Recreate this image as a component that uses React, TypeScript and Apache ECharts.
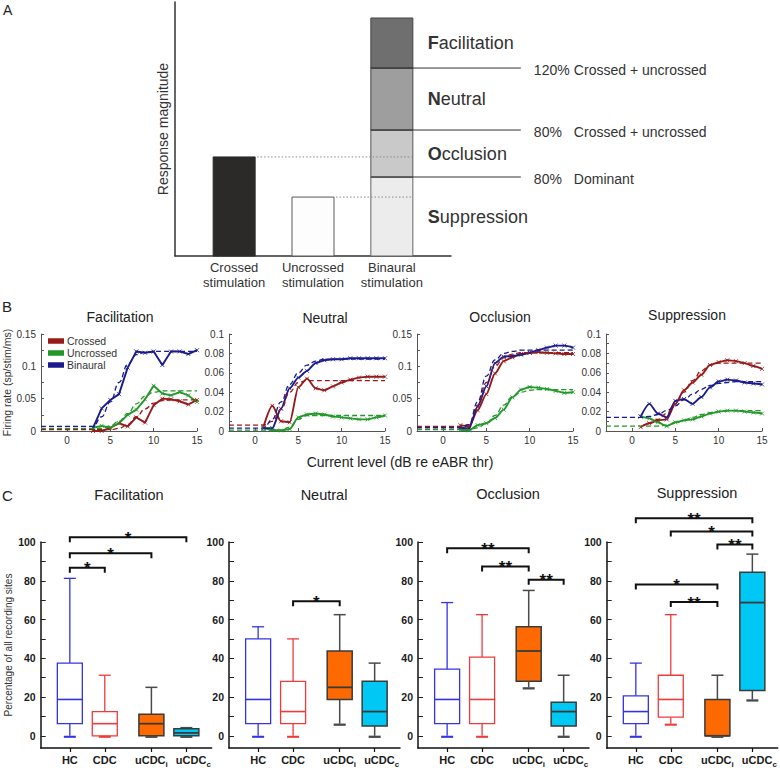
import React, { useEffect, useRef } from 'react';
import * as echarts from 'echarts';

const FONT = '"Liberation Sans", Arial, Helvetica, sans-serif';

// ---------------- Panel A (schematic) ----------------
const stimulusLabels = ['Crossed\nstimulation', 'Uncrossed\nstimulation', 'Binaural\nstimulation'];
const monauralResponse = [39.0, 23.2]; // crossed, uncrossed
const binauralClasses = ['Suppression', 'Occlusion', 'Neutral', 'Facilitation']; // bottom -> top
const binauralSegments = [31.1, 18.5, 24.4, 19.7];
const criterionPercents = ['80%', '80%', '120%'];
const criterionTexts = ['Dominant', 'Crossed + uncrossed', 'Crossed + uncrossed'];

// ---------------- Panel B (rate-level functions) ----------------
const levels = [-3, -2, -1, 0, 1, 2, 3, 4, 5, 6, 7, 8, 9, 10, 11, 12, 13, 14, 15];
const N = null;
const facCrossed = [N, N, N, N, N, N, 0, 0, 0.005, 0.012, 0.007, 0.021, 0.013, 0.04, 0.05, 0.049, 0.046, 0.041, 0.048];
const facCrossedFit = [0.002, 0.002, 0.002, 0.002, 0.002, 0.002, 0.002, 0.002, 0.002, 0.004, 0.01, 0.022, 0.034, 0.043, 0.047, 0.048, 0.048, 0.048, 0.048];
const facUncrossed = [N, N, N, N, N, N, 0.005, 0.008, 0.005, 0.012, 0.025, 0.033, 0.049, 0.07, 0.058, 0.055, 0.06, 0.055, 0.045];
const facUncrossedFit = [0.004, 0.004, 0.004, 0.004, 0.004, 0.004, 0.004, 0.004, 0.008, 0.015, 0.027, 0.042, 0.054, 0.06, 0.062, 0.062, 0.062, 0.062, 0.062];
const facBinaural = [N, N, N, N, N, N, 0.005, 0.035, 0.048, 0.057, 0.098, 0.123, 0.121, 0.123, 0.102, 0.123, 0.123, 0.119, 0.125];
const facBinauralFit = [0.007, 0.007, 0.007, 0.007, 0.007, 0.007, 0.007, 0.022, 0.045, 0.075, 0.103, 0.118, 0.122, 0.123, 0.123, 0.123, 0.123, 0.123, 0.123];

const neuCrossed = [N, N, N, N, 0.005, 0.026, 0.01, 0.009, 0.045, 0.054, 0.044, 0.042, 0.046, 0.05, 0.053, 0.055, 0.056, 0.056, 0.056];
const neuCrossedFit = [0.006, 0.006, 0.006, 0.006, 0.006, 0.01, 0.022, 0.04, 0.05, 0.052, 0.052, 0.052, 0.052, 0.052, 0.052, 0.052, 0.052, 0.052, 0.052];
const neuUncrossed = [N, N, N, N, 0.003, 0.001, 0.0005, 0.002, 0.014, 0.017, 0.018, 0.017, 0.015, 0.014, 0.013, 0.012, 0.012, 0.014, 0.016];
const neuUncrossedFit = [0.001, 0.001, 0.001, 0.001, 0.001, 0.001, 0.001, 0.004, 0.012, 0.016, 0.016, 0.016, 0.016, 0.016, 0.016, 0.016, 0.016, 0.016, 0.016];
const neuBinaural = [N, N, N, N, 0.003, 0.003, 0.023, 0.044, 0.055, 0.062, 0.07, 0.073, 0.074, 0.074, 0.075, 0.075, 0.075, 0.075, 0.075];
const neuBinauralFit = [0.003, 0.003, 0.003, 0.003, 0.003, 0.012, 0.03, 0.048, 0.06, 0.068, 0.072, 0.074, 0.074, 0.074, 0.074, 0.074, 0.074, 0.074, 0.074];

const occCrossed = [N, N, N, N, N, 0.009, 0.007, 0.032, 0.057, 0.089, 0.108, 0.114, 0.119, 0.121, 0.122, 0.121, 0.12, 0.119, 0.119];
const occCrossedFit = [0.007, 0.007, 0.007, 0.007, 0.007, 0.007, 0.01, 0.04, 0.075, 0.1, 0.113, 0.119, 0.121, 0.121, 0.121, 0.121, 0.121, 0.121, 0.121];
const occUncrossed = [N, N, N, N, N, 0.002, 0.001, 0.009, 0.012, 0.02, 0.033, 0.052, 0.064, 0.068, 0.067, 0.065, 0.062, 0.059, 0.06];
const occUncrossedFit = [0.002, 0.002, 0.002, 0.002, 0.002, 0.002, 0.002, 0.005, 0.012, 0.024, 0.04, 0.053, 0.06, 0.063, 0.064, 0.064, 0.064, 0.064, 0.064];
const occBinaural = [N, N, N, N, N, 0.005, 0.004, 0.038, 0.069, 0.105, 0.115, 0.116, 0.118, 0.121, 0.125, 0.129, 0.132, 0.132, 0.129];
const occBinauralFit = [0.005, 0.005, 0.005, 0.005, 0.005, 0.005, 0.01, 0.045, 0.085, 0.11, 0.12, 0.123, 0.125, 0.125, 0.125, 0.125, 0.125, 0.125, 0.125];

const supCrossed = [N, N, N, N, 0.004, 0.008, 0.011, 0.012, 0.028, 0.042, 0.05, 0.058, 0.068, 0.071, 0.073, 0.072, 0.07, 0.067, 0.064];
const supCrossedFit = [N, N, N, N, 0.004, 0.008, 0.012, 0.018, 0.028, 0.04, 0.052, 0.062, 0.068, 0.07, 0.07, 0.07, 0.07, 0.07, 0.07];
const supUncrossed = [N, N, N, N, 0.015, 0.013, 0.009, 0.005, 0.009, 0.011, 0.012, 0.015, 0.018, 0.02, 0.021, 0.021, 0.02, 0.019, 0.018];
const supUncrossedFit = [0.005, 0.005, 0.005, 0.005, 0.005, 0.005, 0.005, 0.006, 0.008, 0.011, 0.014, 0.017, 0.019, 0.02, 0.021, 0.021, 0.021, 0.021, 0.021];
const supBinaural = [N, N, N, N, 0.015, 0.028, 0.018, 0.014, 0.031, 0.033, 0.028, 0.035, 0.045, 0.051, 0.053, 0.052, 0.05, 0.049, 0.048];
const supBinauralFit = [0.014, 0.014, 0.014, 0.014, 0.014, 0.015, 0.017, 0.021, 0.026, 0.032, 0.038, 0.043, 0.047, 0.049, 0.05, 0.051, 0.051, 0.051, 0.051];

const stimNames = ['Crossed', 'Uncrossed', 'Binaural'];
const bTitles = ['Facilitation', 'Neutral', 'Occlusion', 'Suppression'];
const bYMax = [0.15, 0.1, 0.15, 0.1];
const bYLabelsWide = [0, 0.05, 0.1, 0.15];
const bYLabelsNarrow = [0, 0.02, 0.04, 0.06, 0.08, 0.1];
const bXLabels = [0, 5, 10, 15];

// ---------------- Panel C (box plots) ----------------
const groups = ['HC', 'CDC', 'uCDCi', 'uCDCc'];
// [min, Q1, median, Q3, max] in % of recording sites
const facBoxes = [[0, 6.25, 18.75, 37.5, 81.25], [0, 0, 6.25, 12.5, 31.25], [0, 0, 6.25, 11.1, 25], [0, 0, 1.5, 3.6, 4.2]];
const neuBoxes = [[0, 6.25, 18.75, 50, 56.25], [0, 6.25, 12.5, 28.1, 50], [6.25, 18.75, 25, 43.75, 62.5], [0, 5, 12.5, 28.1, 37.5]];
const occBoxes = [[0, 6.25, 18.75, 34.4, 68.75], [0, 6.25, 18.75, 40.6, 62.5], [25, 28.1, 43.75, 56.25, 75], [0, 5, 12.5, 17.3, 31.25]];
const supBoxes = [[0, 6.25, 12.5, 20.6, 37.5], [6.25, 9.6, 18.75, 31.25, 62.5], [0, 0, 0, 18.75, 31.25], [18.75, 23.4, 68.75, 84.4, 93.75]];
// significance brackets: [group from, group to, bracket height (%), number of stars]
const facSig = [[0, 1, 86.7, 1], [0, 2, 94.2, 1], [0, 3, 102.5, 1]];
const neuSig = [[1, 2, 69.4, 1]];
const occSig = [[0, 2, 96.8, 2], [1, 2, 87.4, 2], [2, 3, 80.5, 2]];
const supSig = [[0, 3, 112.2, 2], [1, 3, 105.4, 1], [2, 3, 98.7, 2], [0, 2, 78.1, 1], [1, 2, 69.0, 2]];
const cYLabels = [0, 20, 40, 60, 80, 100];
const cYTicks = [0, 10, 20, 30, 40, 50, 60, 70, 80, 90, 100];

// ---------------- layout / styles ----------------
const A_SLOTS = [0.75, 1.75, 2.75];
const BAR_PX = 42;
const aFills = ['#2b2a29', '#fdfdfd', '#ececec', '#c9c9c9', '#9e9e9e', '#6f6f6f'];
const aStrokes = ['#2b2a29', '#5a5a5a', '#666', '#555', '#444', '#444'];
const B_LEFT = [41, 229, 417, 606];
const C_LEFT = [40.7, 229, 418, 606.7];
const C_SLOTS = [1, 2.2, 3.8, 5];
const C_LABEL_SLOTS = [1, 2.2, 3.8, 5.24];
const stimColors = ['#981b1b', '#23982a', '#1b1b8e'];
const boxStyles = [
  { fill: '#ffffff', stroke: '#3434e0', whisker: '#3434e0', lw: 1.3 },
  { fill: '#ffffff', stroke: '#ee3b3b', whisker: '#ee3b3b', lw: 1.3 },
  { fill: '#ff6a00', stroke: '#3a3a3a', whisker: '#4a4a4a', lw: 1.5 },
  { fill: '#00c8f4', stroke: '#3a3a3a', whisker: '#4a4a4a', lw: 1.5 },
];
const groupLabelRich = ['{a|HC}', '{a|CDC}', '{a|uCDC}{s|i}', '{a|uCDC}{s|c}'];

function textEl(x: number, y: number, text: string, size: number, align = 'center', weight = 'normal', color = '#222') {
  return {
    type: 'text', x, y, silent: true,
    style: {
      text, fill: color, font: `${weight} ${size}px ${FONT}`,
      textAlign: align, align, textVerticalAlign: 'middle', verticalAlign: 'middle',
    },
  };
}

function nearestIndex(list: number[], v: number) {
  let best = 0;
  list.forEach((s, i) => { if (Math.abs(s - v) < Math.abs(list[best] - v)) best = i; });
  return best;
}

function renderStimulus(params: any, api: any) {
  const x = api.value(0), y0 = api.value(1), y1 = api.value(2), k = api.value(3);
  const pb = api.coord([x, y0]);
  const pt = api.coord([x, y1]);
  const left = pb[0] - BAR_PX / 2;
  const right = pb[0] + BAR_PX / 2;
  const ch: any[] = [{
    type: 'rect', shape: { x: left, y: pt[1], width: BAR_PX, height: pb[1] - pt[1] },
    style: { fill: aFills[k], stroke: aStrokes[k], lineWidth: 1 },
  }];
  if (k < 2) {
    const binRight = api.coord([A_SLOTS[2], 0])[0] + BAR_PX / 2;
    ch.push({
      type: 'line', z2: 10, shape: { x1: right + 2, y1: pt[1], x2: binRight - 1, y2: pt[1] },
      style: { stroke: '#8a8a8a', lineWidth: 1, lineDash: [1.5, 2] },
    });
  } else {
    const s = k - 2;
    const name = binauralClasses[s];
    ch.push({
      type: 'text', x: right + 15, y: (pt[1] + pb[1]) / 2, z2: 12,
      style: {
        text: `{b|${name[0]}}{n|${name.slice(1)}}`,
        rich: {
          b: { fontWeight: 'bold', fontSize: 18, fontFamily: FONT, fill: '#333' },
          n: { fontSize: 18, fontFamily: FONT, fill: '#333' },
        },
        textAlign: 'left', align: 'left', textVerticalAlign: 'middle', verticalAlign: 'middle',
      },
    });
    if (s < 3) {
      ch.push({
        type: 'line', z2: 11, shape: { x1: left, y1: pt[1], x2: right + 108, y2: pt[1] },
        style: { stroke: '#333', lineWidth: 1 },
      });
      ch.push({ ...textEl(right + 121, pt[1] + 1.5, criterionPercents[s], 14, 'left', 'normal', '#333'), z2: 12 });
      ch.push({ ...textEl(right + 161, pt[1] + 1.5, criterionTexts[s], 14, 'left', 'normal', '#333'), z2: 12 });
    }
  }
  return { type: 'group', children: ch };
}

function renderBox(params: any, api: any) {
  const x = api.value(0);
  const g = api.value(6);
  const st = boxStyles[g];
  const cx = api.coord([x, 0])[0];
  const ys = [1, 2, 3, 4, 5].map((i) => api.coord([x, api.value(i)])[1]);
  const [yMin, yQ1, yMed, yQ3, yMax] = ys;
  const hw = 12.5;
  const cw = 6;
  const ln = (x1: number, y1: number, x2: number, y2: number, c: string, w: number) => ({
    type: 'line', shape: { x1, y1, x2, y2 }, style: { stroke: c, lineWidth: w },
  });
  return {
    type: 'group',
    children: [
      ln(cx, yQ3, cx, yMax, st.whisker, st.lw),
      ln(cx, yQ1, cx, yMin, st.whisker, st.lw),
      ln(cx - cw, yMax, cx + cw, yMax, st.whisker, st.lw),
      {
        type: 'rect', shape: { x: cx - hw, y: yQ3, width: 2 * hw, height: Math.max(yQ1 - yQ3, 0.5) },
        style: { fill: st.fill, stroke: st.stroke, lineWidth: st.lw },
      },
      ln(cx - hw, yMed, cx + hw, yMed, st.stroke, st.lw + 0.3),
      { ...ln(cx - cw, yMin + 1, cx + cw, yMin + 1, st.whisker, st.lw + 0.8), z2: 5 },
    ],
  };
}

function renderSig(params: any, api: any) {
  const p1 = api.coord([api.value(0), api.value(2)]);
  const p2 = api.coord([api.value(1), api.value(2)]);
  const n = api.value(3);
  return {
    type: 'group',
    children: [
      {
        type: 'polyline',
        shape: { points: [[p1[0], p1[1] + 5], [p1[0], p1[1]], [p2[0], p2[1]], [p2[0], p2[1] + 5]] },
        style: { stroke: '#111', lineWidth: 2, fill: 'none' },
      },
      textEl((p1[0] + p2[0]) / 2, p1[1] + 1, '*'.repeat(n), 17, 'center', 'bold', '#111'),
    ],
  };
}

function buildOption() {
  const grid: any[] = [];
  const xAxis: any[] = [];
  const yAxis: any[] = [];
  const series: any[] = [];

  // ---- Panel A ----
  grid.push({ left: 175, top: 2, width: 276, height: 254 });
  xAxis.push({
    type: 'value', gridIndex: 0, min: 0, max: 3.5,
    axisLine: { onZero: false, lineStyle: { color: '#333', width: 1.5 } },
    axisTick: { show: false }, splitLine: { show: false },
    axisLabel: {
      customValues: A_SLOTS, margin: 4, fontSize: 13, lineHeight: 15, color: '#333', fontFamily: FONT,
      formatter: (v: number) => stimulusLabels[nearestIndex(A_SLOTS, v)],
    },
  });
  yAxis.push({
    type: 'value', gridIndex: 0, min: 0, max: 100,
    name: 'Response magnitude', nameLocation: 'middle', nameGap: 5, nameRotate: 90,
    nameTextStyle: { fontSize: 14, color: '#333', fontFamily: FONT },
    axisLine: { show: true, onZero: false, lineStyle: { color: '#333', width: 1.5 } },
    axisTick: { show: false }, axisLabel: { show: false }, splitLine: { show: false },
  });
  const aRows: number[][] = [
    [A_SLOTS[0], 0, monauralResponse[0], 0],
    [A_SLOTS[1], 0, monauralResponse[1], 1],
  ];
  let cum = 0;
  binauralSegments.forEach((v, i) => {
    aRows.push([A_SLOTS[2], cum, cum + v, 2 + i]);
    cum += v;
  });
  series.push({
    type: 'custom', xAxisIndex: 0, yAxisIndex: 0, renderItem: renderStimulus,
    encode: { x: 0, y: [1, 2] }, data: aRows, silent: true,
  });

  // ---- Panel B ----
  const bLines = [
    [[facCrossed, facCrossedFit], [facUncrossed, facUncrossedFit], [facBinaural, facBinauralFit]],
    [[neuCrossed, neuCrossedFit], [neuUncrossed, neuUncrossedFit], [neuBinaural, neuBinauralFit]],
    [[occCrossed, occCrossedFit], [occUncrossed, occUncrossedFit], [occBinaural, occBinauralFit]],
    [[supCrossed, supCrossedFit], [supUncrossed, supUncrossedFit], [supBinaural, supBinauralFit]],
  ];
  for (let p = 0; p < 4; p++) {
    const ai = 1 + p;
    const wide = bYMax[p] > 0.12;
    grid.push({ left: B_LEFT[p], top: 334, width: 156, height: 97 });
    xAxis.push({
      type: 'value', gridIndex: ai, min: -3, max: 15,
      axisLine: { onZero: false, lineStyle: { color: '#555', width: 1 } },
      axisTick: { inside: true, length: 3, customValues: bXLabels, lineStyle: { color: '#555' } },
      axisLabel: { customValues: bXLabels, fontSize: 10, color: '#333', margin: 4, fontFamily: FONT },
      splitLine: { show: false },
    });
    const yLabels = wide ? bYLabelsWide : bYLabelsNarrow;
    const yTicks: number[] = [];
    const step = wide ? 0.025 : 0.01;
    for (let t = 0; t <= bYMax[p] + 1e-9; t += step) yTicks.push(Math.round(t * 1000) / 1000);
    yAxis.push({
      type: 'value', gridIndex: ai, min: 0, max: bYMax[p],
      name: p === 0 ? 'Firing rate (sp/stim/ms)' : '', nameLocation: 'middle', nameGap: 29, nameRotate: 90,
      nameTextStyle: { fontSize: 10.5, color: '#333', fontFamily: FONT },
      axisLine: { show: true, onZero: false, lineStyle: { color: '#555', width: 1 } },
      axisTick: { inside: true, length: 3, customValues: yTicks, lineStyle: { color: '#555' } },
      axisLabel: { customValues: yLabels, fontSize: 10, color: '#333', margin: 5, fontFamily: FONT, formatter: (v: number) => String(v) },
      splitLine: { show: false },
    });
    bLines[p].forEach((pair, s) => {
      const [solid, fit] = pair;
      const toData = (arr: (number | null)[]) => levels.map((l, i) => [l, arr[i]]).filter((d) => d[1] !== null);
      series.push({
        type: 'line', name: stimNames[s], xAxisIndex: ai, yAxisIndex: ai, data: toData(solid),
        symbol: 'path://M0,0L10,10M10,0L0,10', symbolSize: 4, showSymbol: true,
        itemStyle: { color: stimColors[s], borderColor: stimColors[s], borderWidth: 0.8 },
        lineStyle: { color: stimColors[s], width: 1.9 }, smooth: p === 0 ? false : 0.25, smoothMonotone: 'x',
        silent: true, z: 3,
      });
      series.push({
        type: 'line', name: stimNames[s] + ' fit', xAxisIndex: ai, yAxisIndex: ai, data: toData(fit),
        showSymbol: false, symbol: 'none',
        lineStyle: { color: stimColors[s], width: 1.3, type: [5, 3] }, smooth: 0.45, smoothMonotone: 'x',
        silent: true, z: 4,
      });
    });
  }

  // ---- Panel C ----
  const cBoxes = [facBoxes, neuBoxes, occBoxes, supBoxes];
  const cSig = [facSig, neuSig, occSig, supSig];
  for (let p = 0; p < 4; p++) {
    const ai = 5 + p;
    grid.push({ left: C_LEFT[p], top: 542, width: 171, height: 206 });
    xAxis.push({
      type: 'value', gridIndex: ai, min: 0, max: 5.87,
      axisLine: { onZero: false, lineStyle: { color: '#111', width: 1.5 } },
      axisTick: { show: true, customValues: C_SLOTS, length: 4, lineStyle: { color: '#111', width: 1.2 } },
      axisLabel: {
        customValues: C_LABEL_SLOTS, margin: 4, hideOverlap: false, showMinLabel: true, showMaxLabel: true,
        formatter: (v: number) => groupLabelRich[nearestIndex(C_LABEL_SLOTS, v)],
        rich: {
          a: { fontWeight: 'bold', fontSize: 11, color: '#1a1a1a', fontFamily: FONT, lineHeight: 16, verticalAlign: 'middle' },
          s: { fontWeight: 'bold', fontSize: 8, color: '#1a1a1a', fontFamily: FONT, lineHeight: 9, verticalAlign: 'bottom' },
        },
      },
      splitLine: { show: false },
    });
    yAxis.push({
      type: 'value', gridIndex: ai, min: -6.3, max: 100,
      name: p === 0 ? 'Percentage of all recording sites' : '', nameLocation: 'middle', nameGap: 27, nameRotate: 90,
      nameTextStyle: { fontSize: 10, color: '#333', fontFamily: FONT },
      axisLine: { show: true, onZero: false, lineStyle: { color: '#111', width: 1.5 } },
      axisTick: { inside: true, length: 5, customValues: cYTicks, lineStyle: { color: '#222' } },
      axisLabel: { customValues: cYLabels, fontSize: 10.5, fontWeight: 'bold', color: '#1a1a1a', margin: 5, fontFamily: FONT },
      splitLine: { show: false },
    });
    series.push({
      type: 'custom', xAxisIndex: ai, yAxisIndex: ai, renderItem: renderBox, silent: true,
      encode: { x: 0, y: [1, 2, 3, 4, 5] },
      data: cBoxes[p].map((b, g) => [C_SLOTS[g], ...b, g]),
    });
    series.push({
      type: 'custom', xAxisIndex: ai, yAxisIndex: ai, renderItem: renderSig, silent: true,
      encode: { x: [0, 1], y: 2 },
      data: cSig[p].map(([a, b, y, n]) => [C_SLOTS[a], C_SLOTS[b], y, n]),
    });
  }

  const bTitlePos = [[120, 317], [325, 318], [500, 317], [687, 315]];
  const cTitlePos = [[129, 495], [324, 495], [508, 494], [697, 493]];
  const elements: any[] = [
    textEl(3, 10, 'A', 14, 'left', 'normal', '#222'),
    textEl(2, 306, 'B', 15, 'left', 'normal', '#222'),
    textEl(2, 495, 'C', 15, 'left', 'normal', '#222'),
    textEl(400, 462, 'Current level (dB re eABR thr)', 14, 'center', 'normal', '#222'),
  ];
  bTitles.forEach((t, i) => elements.push(textEl(bTitlePos[i][0], bTitlePos[i][1], t, 14, 'center', 'normal', '#222')));
  bTitles.forEach((t, i) => elements.push(textEl(cTitlePos[i][0], cTitlePos[i][1], t, 14.5, 'center', 'normal', '#222')));

  return {
    animation: false,
    backgroundColor: '#ffffff',
    textStyle: { fontFamily: FONT },
    grid, xAxis, yAxis, series,
    legend: {
      data: stimNames, orient: 'vertical', left: 48, top: 335, itemWidth: 14, itemHeight: 3.5, itemGap: 0,
      icon: 'rect', selectedMode: false, padding: 0,
      textStyle: { fontSize: 10.5, lineHeight: 12, color: '#333', fontFamily: FONT, padding: [0, 0, 0, -1] },
    },
    graphic: { elements },
  };
}

export default function App() {
  const ref = useRef<HTMLDivElement>(null);
  useEffect(() => {
    if (!ref.current) return;
    const chart = echarts.init(ref.current, null, { renderer: 'svg' });
    chart.setOption(buildOption() as any);
    return () => chart.dispose();
  }, []);
  return <div ref={ref} style={{ position: 'absolute', left: 0, top: 0, width: 780, height: 768 }} />;
}
